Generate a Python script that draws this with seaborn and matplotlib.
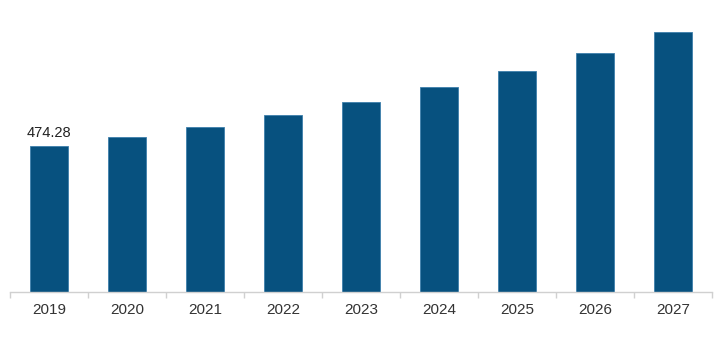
import matplotlib
matplotlib.use("Agg")
import matplotlib.pyplot as plt
import seaborn as sns
import numpy as np
import pandas as pd

years = ["2019", "2020", "2021", "2022", "2023", "2024", "2025", "2026", "2027"]
values = [474.28, 503.5, 536.0, 575.0, 617.0, 666.0, 718.0, 776.0, 845.0]
label_text = "474.28"

sns.set_style("white")
plt.rcParams['font.family'] = ['Liberation Sans', 'DejaVu Sans']

df = pd.DataFrame({"year": years, "value": values})

fig = plt.figure(figsize=(7.17, 3.39), dpi=100)
ax = fig.add_axes([10/717, 47/339, 702/717, 292/339])
sns.barplot(data=df, x="year", y="value", color="#07517f", saturation=1,
            width=0.49, edgecolor="#3d7fab", linewidth=0.6, ax=ax)
ax.set_xlim(-0.5, len(years) - 0.5)
ax.set_ylim(0, 948.6)
ax.set_xlabel("")
ax.set_ylabel("")
ax.set_yticks([])
for s in ["top", "right", "left"]:
    ax.spines[s].set_visible(False)
ax.spines["bottom"].set_color("#d0d0d0")
ax.spines["bottom"].set_linewidth(1.0)
ax.tick_params(axis="x", which="major", bottom=True, length=0, pad=8, labelsize=11, labelcolor="#333333")
ax.set_xticks(np.arange(-0.5, len(years)), minor=True)
ax.tick_params(axis="x", which="minor", bottom=True, length=4, color="#d0d0d0", width=1, direction="out")
ax.text(0, values[0] + 18, label_text, ha="center", va="bottom", fontsize=10.5, color="#222222")

fig.savefig("out.png", dpi=100)
